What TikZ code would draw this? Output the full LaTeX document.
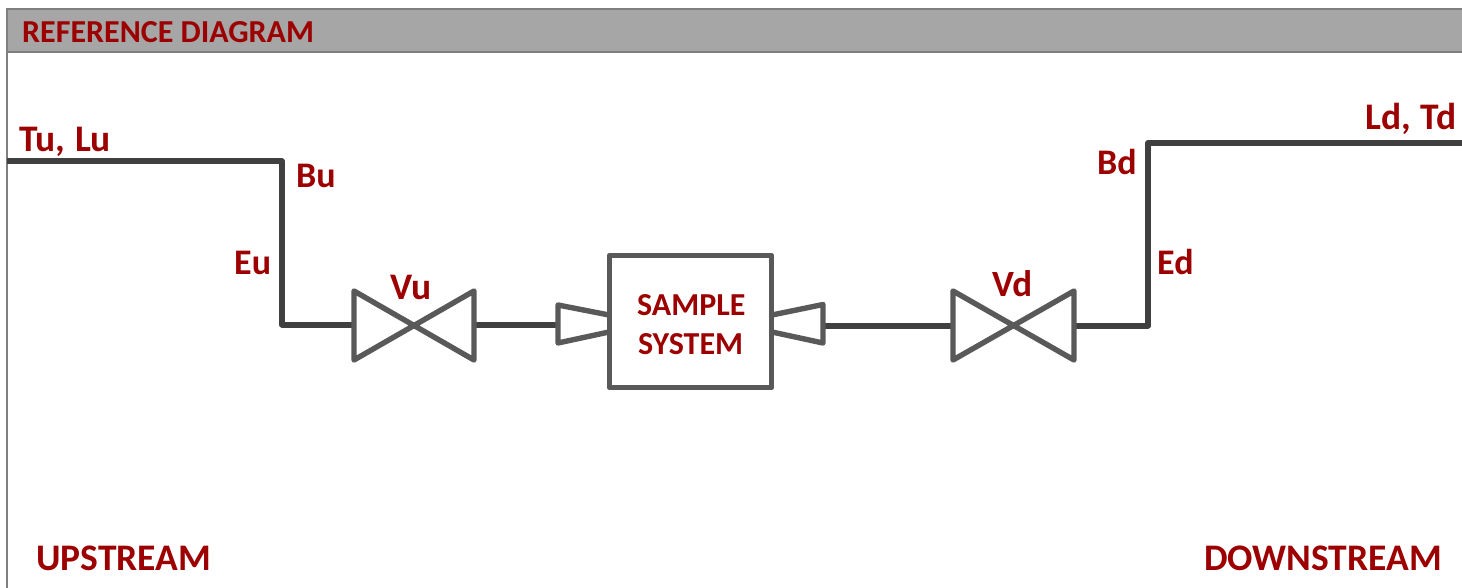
\documentclass[tikz,border=0pt]{standalone}
\usepackage{fontspec}
\setmainfont{Carlito}
\definecolor{lbl}{HTML}{9C0000}
\definecolor{pipe}{HTML}{404040}
\definecolor{equip}{HTML}{595959}
\definecolor{hdr}{HTML}{A6A6A6}
\definecolor{hdrline}{HTML}{7F7F7F}
\tikzset{
  lab/.style={font=\fontsize{#1}{#1}\selectfont\bfseries, text=lbl, inner sep=0pt, anchor=base west},
  pipeline/.style={draw=pipe, line width=6pt, line join=round},
  equipline/.style={draw=equip, line width=5.4pt, line join=round},
}
\begin{document}
\begin{tikzpicture}[x=1pt,y=-1pt]
\useasboundingbox (0,0) rectangle (1462,588);
% frame
\fill[hdr] (7,9) rectangle (1462,52);
\draw[hdrline, line width=1.8pt] (1462,9) -- (7,9) -- (7,588);
\draw[hdrline, line width=1.8pt] (7,52) -- (1462,52);
\node[lab=32] (title) at (22,43) {REFERENCE DIAGRAM};
% anchors
\coordinate (inU) at (7,161.5);
\coordinate (bendU1) at (282,161.5);
\coordinate (bendU2) at (282,324.5);
\coordinate (vuL) at (354,324.5);
\coordinate (vuR) at (474,324.5);
\coordinate (redLa) at (558,324.5);
\coordinate (redRa) at (823,325.5);
\coordinate (vdL) at (953,325.5);
\coordinate (vdR) at (1074,325.5);
\coordinate (bendD1) at (1148,325.5);
\coordinate (bendD2) at (1148,143);
\coordinate (outD) at (1462,143);
% pipes
\draw[pipeline] (inU) -- (bendU1) -- (bendU2) -- (vuL);
\draw[pipeline] (vuR) -- (redLa);
\draw[pipeline] (redRa) -- (vdL);
\draw[pipeline] (vdR) -- (bendD1) -- (bendD2) -- (outD);
% valves
\draw[equipline] (354,291) -- (474,360) -- (474,291) -- (354,360) -- cycle;
\draw[equipline] (953,291) -- (1074,360) -- (1074,291) -- (953,360) -- cycle;
% reducers
\draw[equipline] (609,315) -- (558,305) -- (558,343) -- (609,332);
\draw[equipline] (772,315) -- (823,304.5) -- (823,343) -- (772,332);
% sample box
\node[equipline, minimum width=162pt, minimum height=132pt, inner sep=0pt, outer sep=0pt] (box) at (690.5,321.5) {};
\node[lab=32] (s1) at (637,315) {SAMPLE};
\node[lab=32] (s2) at (638,354) {SYSTEM};
% labels
\node[lab=37.5] (tulu) at (19,152) {Tu,\hspace{1pt} Lu};
\node[lab=36] (bu) at (296,188) {Bu};
\node[lab=36] (eu) at (234,274.5) {Eu};
\node[lab=37.5] (vu) at (390,299) {Vu};
\node[lab=37] (vd) at (992,296) {Vd};
\node[lab=36] (bd) at (1097,175) {Bd};
\node[lab=36] (ed) at (1157,274.5) {Ed};
\node[lab=37.5] (ldtd) at (1365,130) {Ld,\hspace{1pt} Td};
\node[lab=37.5] (up) at (36,570) {UPSTREAM};
\node[lab=37.5] (down) at (1204,570) {DOWNSTREAM};
\end{tikzpicture}
\end{document}
